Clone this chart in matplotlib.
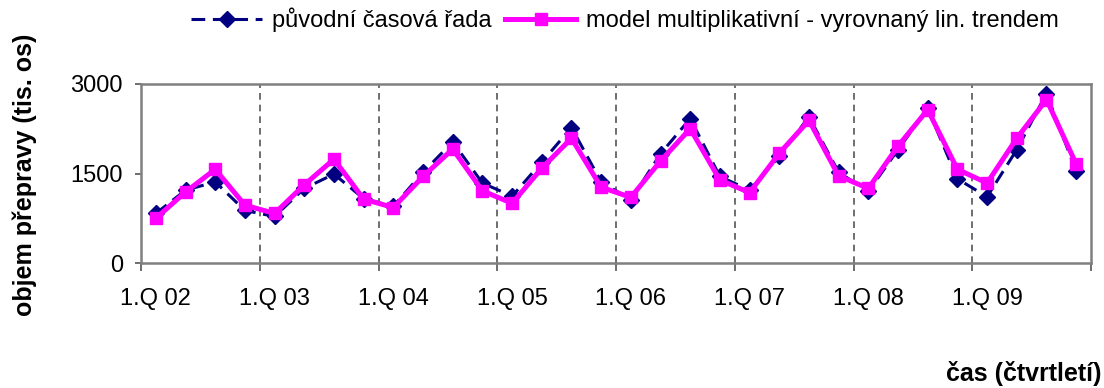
import numpy as np
import matplotlib
matplotlib.use('Agg')
import matplotlib.pyplot as plt

plt.rcParams['font.family'] = ['Liberation Sans', 'DejaVu Sans']

# quarterly data 1.Q 02 .. 4.Q 09 (tis. os)
tick_labels = ['1.Q 02', '1.Q 03', '1.Q 04', '1.Q 05', '1.Q 06', '1.Q 07', '1.Q 08', '1.Q 09']
puvodni = [830, 1220, 1360, 880, 780, 1250, 1490, 1080,
           950, 1520, 2030, 1340, 1120, 1690, 2270, 1360,
           1060, 1830, 2420, 1450, 1220, 1790, 2450, 1520,
           1200, 1900, 2590, 1410, 1110, 1900, 2840, 1540]
model = [750, 1190, 1570, 970, 830, 1310, 1740, 1070,
         930, 1450, 1910, 1210, 1000, 1590, 2090, 1270,
         1100, 1710, 2250, 1390, 1180, 1840, 2390, 1460,
         1250, 1960, 2570, 1570, 1340, 2090, 2740, 1660]

n = len(puvodni)
x = np.arange(n) + 0.5

fig = plt.figure(figsize=(11.04, 3.88), dpi=100)
ax = fig.add_axes([141/1104, 1-263/388, 950/1104, 179/388])

ax.plot(x, puvodni, color='#000080', lw=2.2, ls=(0, (4.5, 2.5)), marker='D',
        markersize=8, label='původní časová řada', zorder=3)
ax.plot(x, model, color='#FF00FF', lw=3.6, marker='s', markersize=9,
        label='model multiplikativní - vyrovnaný lin. trendem', zorder=4)

ax.set_xlim(0, n)
ax.set_ylim(0, 3000)
ax.set_yticks([0, 1500, 3000])

ax.set_xticks(np.arange(0, n + 1, 4))
ax.set_xticklabels([])
ax.set_xticks(np.arange(0, n, 4) + 0.5, minor=True)
ax.set_xticklabels(tick_labels, minor=True)
ax.tick_params(axis='x', which='major', length=6, width=1.2, color='#555555', direction='out')
ax.tick_params(axis='x', which='minor', length=0, pad=18, labelsize=17)
ax.tick_params(axis='y', length=4, width=1.2, color='#555555', pad=9, labelsize=17)

for b in range(4, n, 4):
    ax.axvline(b, color='#555555', lw=1.2, ls=(0, (4, 3)), zorder=1)

for s in ax.spines.values():
    s.set_color('#808080')
    s.set_linewidth(1.8)

fig.text(25/1104, 1-175/388, 'objem přepravy (tis. os)', rotation=90,
         ha='center', va='center', fontsize=18, fontweight='bold')
fig.text(1102/1104, 1-374/388, 'čas (čtvrtletí)', ha='right', va='center',
         fontsize=18, fontweight='bold')

fig.legend(loc='center', bbox_to_anchor=(0.566, 0.948), ncol=2, frameon=False,
           fontsize=17, handlelength=3.0, handletextpad=0.4, columnspacing=0.6)

fig.savefig('out.png', dpi=100)
